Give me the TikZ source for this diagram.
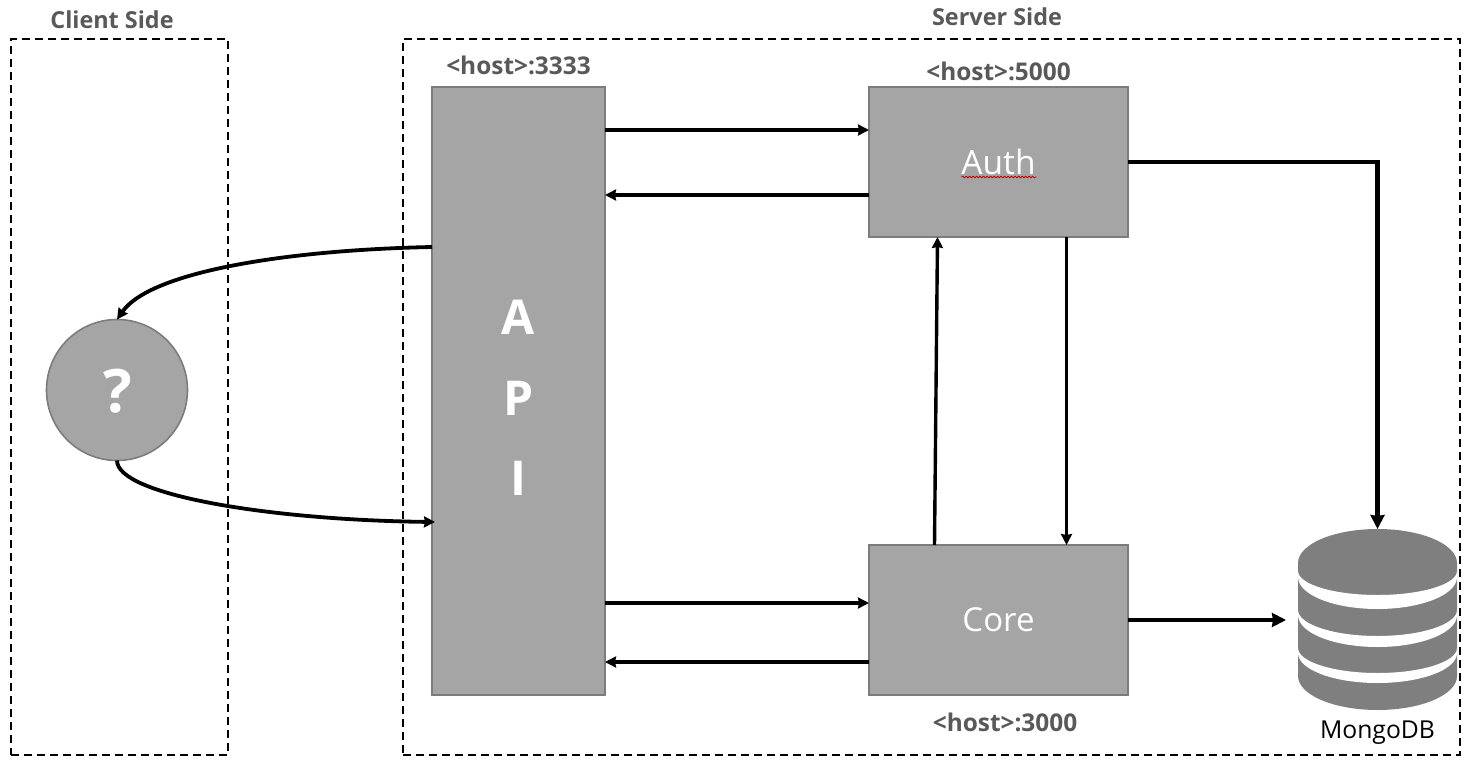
\documentclass[tikz,border=0pt]{standalone}
\usepackage{fontspec}
\setmainfont{Open Sans}
\usetikzlibrary{arrows.meta,positioning,decorations.pathmorphing}

\definecolor{boxfill}{HTML}{A5A5A5}
\definecolor{boxline}{HTML}{7C7C7C}
\definecolor{dbfill}{HTML}{7F7F7F}
\definecolor{labeltext}{HTML}{595959}

\tikzset{
  sidearea/.style={draw=black, line width=1.8pt, dash pattern=on 8pt off 5pt},
  srvbox/.style={
    draw=boxline, fill=boxfill, line width=1.6pt,
    inner sep=0pt, outer sep=0pt, text=white, align=center,
  },
  sidelabel/.style={
    font=\fontsize{23.4}{27}\selectfont\bfseries,
    text=labeltext, inner sep=0pt, outer sep=0pt,
  },
  hostlabel/.style={
    font=\fontsize{24.4}{28}\selectfont\bfseries,
    text=labeltext, inner sep=0pt, outer sep=0pt,
  },
  thinlink/.style={
    line width=3.4pt,
    -{Stealth[length=11pt,width=11pt,inset=1pt]},
  },
  thicklink/.style={
    line width=4.4pt,
    -{Stealth[length=14pt,width=14pt,inset=1pt]},
  },
}

\begin{document}
\begin{tikzpicture}[x=1pt, y=-1pt]
  \useasboundingbox (0, 0) rectangle (1483, 776);

  \node[sidearea, anchor=north west, minimum width=217pt, minimum height=716pt,
    inner sep=0pt, outer sep=0pt] (client) at (11, 39) {};
  \node[sidearea, anchor=north west, minimum width=1057pt, minimum height=716pt,
    inner sep=0pt, outer sep=0pt] (server) at (403, 39) {};
  \node[sidelabel] (clientlbl) at (112, 20) {Client Side};
  \node[sidelabel] (serverlbl) at (997, 17) {Server Side};

  \node[srvbox, anchor=north west, minimum width=173pt, minimum height=608pt] (api) at (432, 87) {};
  \node[inner sep=0pt, text=white, align=center, yshift=-7pt,
    font=\fontsize{48}{80.5}\selectfont\bfseries] (apitxt) at (api.center) {A\\P\\I};
  \node[srvbox, anchor=north west, minimum width=259pt, minimum height=150pt,
    font=\fontsize{33.5}{38}\selectfont] (auth) at (869, 87) {Auth};
  \node[srvbox, anchor=north west, minimum width=259pt, minimum height=150pt,
    font=\fontsize{33}{38}\selectfont] (core) at (869, 545) {Core};
  \node[srvbox, circle, minimum size=141pt] (ask) at (117, 390) {};
  \node[inner sep=0pt, text=white, xshift=1pt, yshift=-1.5pt,
    font=\fontsize{60}{66}\selectfont\bfseries] (asktxt) at (ask.center) {?};

  \node[hostlabel, above=12pt of api.north] (apilbl) {<host>:3333};
  \node[hostlabel, above=6pt of auth.north] (authlbl) {<host>:5000};
  \node[hostlabel] (corelbl) at (1005, 722) {<host>:3000};

  % spell check mark
  \draw[red!80!black, line width=.8pt, decorate,
    decoration={snake, amplitude=.8pt, segment length=3.5pt}]
    ([xshift=-37pt,yshift=-15pt]auth.center) -- ([xshift=38pt,yshift=-15pt]auth.center);

  % database
  \node[inner sep=0pt, outer sep=0pt, minimum width=159pt, minimum height=181pt]
    (mongo) at (1377.5, 619.5) {};
  \fill[dbfill]
    (mongo.north west) ++(0, 34) arc[start angle=180, end angle=0, x radius=79.5pt, y radius=34pt]
    -- ++(0, 113) arc[start angle=360, end angle=180, x radius=79.5pt, y radius=34pt]
    -- cycle;
  \foreach \topy/\topr/\boty/\botr in {
    571/24/577/32,
    610/26/615/32,
    648/25/653/30%
  } {
    \fill[white]
      (mongo.west |- 0,\topy) arc[start angle=180, end angle=360, x radius=79.5pt, y radius=\topr pt]
      -- (mongo.east |- 0,\boty) arc[start angle=360, end angle=180, x radius=79.5pt, y radius=\botr pt]
      -- cycle;
  }
  \node[inner sep=0pt, font=\fontsize{24.7}{28}\selectfont, below=11pt of mongo.south] (mongolbl) {MongoDB};

  % api and services
  \foreach \from/\to/\dy in {
    api.north east/auth.north west/-43pt,
    auth.north west/api.north east/-108pt,
    api.south east/core.south west/92pt,
    core.south west/api.south east/33pt%
  } {
    \draw[thinlink] ([yshift=\dy]\from) -- ([yshift=\dy]\to);
  }
  \draw[thinlink] ([xshift=-64pt]core.north) -- ([xshift=-61pt]auth.south);
  \draw[thinlink] ([xshift=68pt]auth.south) -- ([xshift=68pt]core.north);

  % database links
  \draw[thicklink] ([yshift=-75pt]auth.north east) -| (mongo.north);
  \draw[thicklink] (core.east) -- ([xshift=-12pt]mongo.west |- core.east);

  % client links
  \draw[thinlink, line width=3.8pt] ([yshift=-160pt]api.north west)
    .. controls (285, 250) and (150, 272) .. (ask.north);
  \draw[thinlink, line width=3.8pt] (ask.south)
    .. controls (117, 495) and (270, 520) .. ([yshift=173pt,xshift=3pt]api.south west);
\end{tikzpicture}
\end{document}
